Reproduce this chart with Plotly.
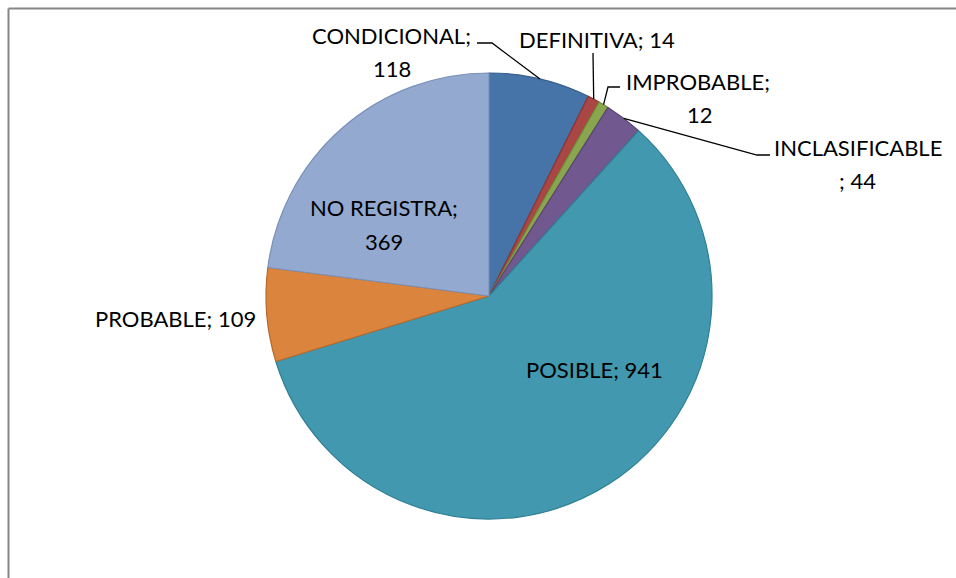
import math
import plotly.graph_objects as go

W, H = 956, 578

categories = ["CONDICIONAL", "DEFINITIVA", "IMPROBABLE", "INCLASIFICABLE",
              "POSIBLE", "PROBABLE", "NO REGISTRA"]
values = [118, 14, 12, 44, 941, 109, 369]
colors = ["#4673A8", "#AA4643", "#89A54E", "#71588F", "#4198AF", "#DB843D", "#93A9CF"]
edge_colors = ["#38608F", "#8F3431", "#6F8A3A", "#5A4474", "#2F7F94", "#B8692A", "#7A90B8"]

# label lines (how the text wraps in the original)
label_lines = {
    "CONDICIONAL": ["CONDICIONAL;", "118"],
    "DEFINITIVA": ["DEFINITIVA; 14"],
    "IMPROBABLE": ["IMPROBABLE;", "12"],
    "INCLASIFICABLE": ["INCLASIFICABLE", "; 44"],
    "POSIBLE": ["POSIBLE; 941"],
    "PROBABLE": ["PROBABLE; 109"],
    "NO REGISTRA": ["NO REGISTRA;", "369"],
}

# layout (pixels)
CX, CY, R = 489, 296, 223
label_pos = {  # centre of each text line, pixels
    "CONDICIONAL": [(391, 36), (392, 68)],
    "DEFINITIVA": [(597, 40)],
    "IMPROBABLE": [(698, 82), (700, 114)],
    "INCLASIFICABLE": [(858, 148), (857, 180)],
    "POSIBLE": [(594, 369)],
    "PROBABLE": [(175, 318)],
    "NO REGISTRA": [(384, 208), (384, 241)],
}
leader_path = {  # points from label towards slice edge (edge point appended from data)
    "CONDICIONAL": [(477, 43), (492, 43)],
    "DEFINITIVA": [(593, 53)],
    "IMPROBABLE": [(620, 87), (608, 87)],
    "INCLASIFICABLE": [(770, 155), (757, 155)],
}

FONT = "Lato"
FS = 22


def px(x):
    return x / W


def py(y):
    return 1 - y / H


fig = go.Figure(go.Pie(
    labels=categories, values=values, sort=False, direction="clockwise", rotation=0,
    marker=dict(colors=colors, line=dict(color=edge_colors, width=1.2)),
    textinfo="none", hoverinfo="label+value", showlegend=False,
    domain=dict(x=[px(CX - R), px(CX + R)], y=[py(CY + R), py(CY - R)]),
))

total = sum(values)
cum = 0
shapes = []
annotations = []
for cat, v in zip(categories, values):
    mid = (cum + v / 2) / total * 2 * math.pi
    cum += v
    ex = CX + R * math.sin(mid)
    ey = CY - R * math.cos(mid)
    if cat in leader_path:
        pts = leader_path[cat] + [(ex, ey)]
        d = "M " + " L ".join(f"{px(x):.5f},{py(y):.5f}" for x, y in pts)
        shapes.append(dict(type="path", xref="paper", yref="paper", path=d,
                           line=dict(color="black", width=1.3)))
    for line, (lx, ly) in zip(label_lines[cat], label_pos[cat]):
        annotations.append(dict(text=line, x=px(lx), y=py(ly), xref="paper", yref="paper",
                                xanchor="center", yanchor="middle", showarrow=False,
                                font=dict(family=FONT, size=FS, color="black")))

# chart frame
shapes.append(dict(type="line", xref="paper", yref="paper", x0=px(8.5), x1=1.01,
                   y0=py(8.5), y1=py(8.5), line=dict(color="#868686", width=2)))
shapes.append(dict(type="line", xref="paper", yref="paper", x0=px(8.5), x1=px(8.5),
                   y0=py(8.5), y1=-0.01, line=dict(color="#868686", width=2)))

fig.update_layout(
    width=W, height=H, margin=dict(l=0, r=0, t=0, b=0),
    paper_bgcolor="white", plot_bgcolor="white",
    shapes=shapes, annotations=annotations,
)

fig.write_html("out.html", config={"displayModeBar": False},
               post_script="document.body.style.margin='0';document.body.style.overflow='hidden';")
